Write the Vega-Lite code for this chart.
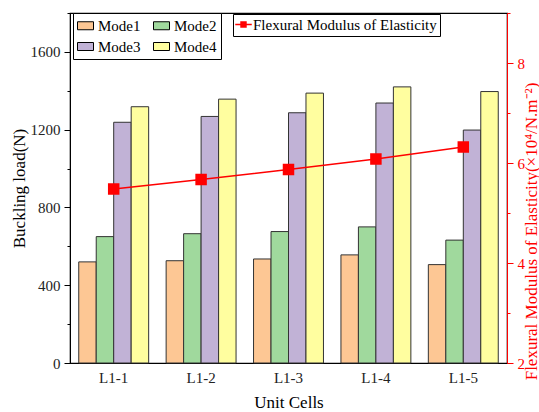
{
  "$schema": "https://vega.github.io/schema/vega-lite/v6.json",
  "width": 437,
  "height": 350,
  "autosize": {"type": "none"},
  "padding": {"left": 70, "top": 13, "right": 32, "bottom": 49},
  "config": {
    "font": "Liberation Serif",
    "view": {"stroke": "black", "strokeWidth": 1.2},
    "axis": {"labelFont": "Liberation Serif", "titleFont": "Liberation Serif", "labelFontSize": 15, "titleFontSize": 17, "titleFontWeight": "normal", "grid": false, "domainColor": "black", "tickColor": "black", "labelColor": "#222"},
    "legend": {"labelFont": "Liberation Serif", "labelFontSize": 15, "labelColor": "black"}
  },
  "datasets": {
    "bars": [
      {"cell": "L1-1", "mode": "Mode1", "load": 520},
      {"cell": "L1-1", "mode": "Mode2", "load": 650},
      {"cell": "L1-1", "mode": "Mode3", "load": 1238},
      {"cell": "L1-1", "mode": "Mode4", "load": 1318},
      {"cell": "L1-2", "mode": "Mode1", "load": 526},
      {"cell": "L1-2", "mode": "Mode2", "load": 665},
      {"cell": "L1-2", "mode": "Mode3", "load": 1268},
      {"cell": "L1-2", "mode": "Mode4", "load": 1357},
      {"cell": "L1-3", "mode": "Mode1", "load": 535},
      {"cell": "L1-3", "mode": "Mode2", "load": 676},
      {"cell": "L1-3", "mode": "Mode3", "load": 1287},
      {"cell": "L1-3", "mode": "Mode4", "load": 1388},
      {"cell": "L1-4", "mode": "Mode1", "load": 556},
      {"cell": "L1-4", "mode": "Mode2", "load": 700},
      {"cell": "L1-4", "mode": "Mode3", "load": 1337},
      {"cell": "L1-4", "mode": "Mode4", "load": 1420},
      {"cell": "L1-5", "mode": "Mode1", "load": 506},
      {"cell": "L1-5", "mode": "Mode2", "load": 632},
      {"cell": "L1-5", "mode": "Mode3", "load": 1198},
      {"cell": "L1-5", "mode": "Mode4", "load": 1396}
    ],
    "line": [
      {"cell": "L1-1", "series": "Flexural Modulus of Elasticity", "modulus": 5.48},
      {"cell": "L1-2", "series": "Flexural Modulus of Elasticity", "modulus": 5.67},
      {"cell": "L1-3", "series": "Flexural Modulus of Elasticity", "modulus": 5.87},
      {"cell": "L1-4", "series": "Flexural Modulus of Elasticity", "modulus": 6.08},
      {"cell": "L1-5", "series": "Flexural Modulus of Elasticity", "modulus": 6.32}
    ]
  },
  "layer": [
    {
      "data": {"name": "bars"},
      "mark": {"type": "bar", "stroke": "#333", "strokeWidth": 1},
      "encoding": {
        "x": {"field": "cell", "type": "nominal", "scale": {"paddingInner": 0.2, "paddingOuter": 0.1},
          "axis": {"title": "Unit Cells", "labelAngle": 0, "ticks": false, "labelPadding": 7, "titlePadding": 9, "labelColor": "#222"}},
        "xOffset": {"field": "mode", "type": "nominal"},
        "y": {"field": "load", "type": "quantitative", "scale": {"domain": [0, 1800], "nice": false},
          "axis": {"title": "Buckling load(N)", "values": [0, 200, 400, 600, 800, 1000, 1200, 1400, 1600, 1800],
            "labelExpr": "datum.value % 400 === 0 && datum.value < 1800 ? datum.label : ''",
            "format": "d", "tickSize": {"condition": {"test": "datum.value % 400 === 0", "value": 6}, "value": 3},
            "labelPadding": 4, "titlePadding": 2, "domainColor": "black"}},
        "color": {"field": "mode", "type": "nominal",
          "scale": {"domain": ["Mode1", "Mode2", "Mode3", "Mode4"], "range": ["#FDC794", "#A0D99D", "#C1B2D6", "#FFFE9F"]},
          "legend": {"title": null, "orient": "none", "direction": "horizontal", "legendX": 3, "legendY": 0, "columns": 2, "columnPadding": 10, "rowPadding": 4,
            "symbolType": "M-1,-0.5H1V0.5H-1Z", "symbolSize": 256, "symbolStrokeColor": "black", "symbolStrokeWidth": 1, "symbolOpacity": 1,
            "labelOffset": 4, "padding": 4, "strokeColor": "black", "fillColor": "white"}}
      }
    },
    {
      "data": {"name": "line"},
      "mark": {"type": "line", "strokeWidth": 1.5, "point": {"shape": "square", "size": 90, "filled": true, "color": "red"}},
      "encoding": {
        "x": {"field": "cell", "type": "nominal"},
        "y": {"field": "modulus", "type": "quantitative", "scale": {"domain": [2, 9], "nice": false},
          "axis": {"orient": "right", "title": "Flexural Modulus of Elasticity(×10⁴/N.m⁻²)", "titleAngle": 270, "titleY": 218, "titleX": 24, "titleBaseline": "middle",
            "values": [2, 3, 4, 5, 6, 7, 8, 9], "labelExpr": "datum.value % 2 === 0 && datum.value < 9 ? datum.label : ''",
            "tickSize": {"condition": {"test": "datum.value % 2 === 0", "value": 6}, "value": 3},
            "domainColor": "red", "tickColor": "red", "labelColor": "red", "titleColor": "red", "labelPadding": 4}},
        "stroke": {"field": "series", "type": "nominal", "scale": {"range": ["red"]},
          "legend": {"title": null, "orient": "none", "legendX": 163, "legendY": 1, "labelLimit": 300,
            "symbolType": "M-1.5,0H1.5M-0.45,-0.45H0.45V0.45H-0.45Z", "symbolSize": 121, "symbolFillColor": "red", "symbolStrokeColor": "red", "symbolStrokeWidth": 1.5,
            "labelOffset": 2, "padding": 3, "strokeColor": "black", "fillColor": "white"}}
      }
    }
  ],
  "resolve": {"scale": {"y": "independent", "color": "independent"}}
}
